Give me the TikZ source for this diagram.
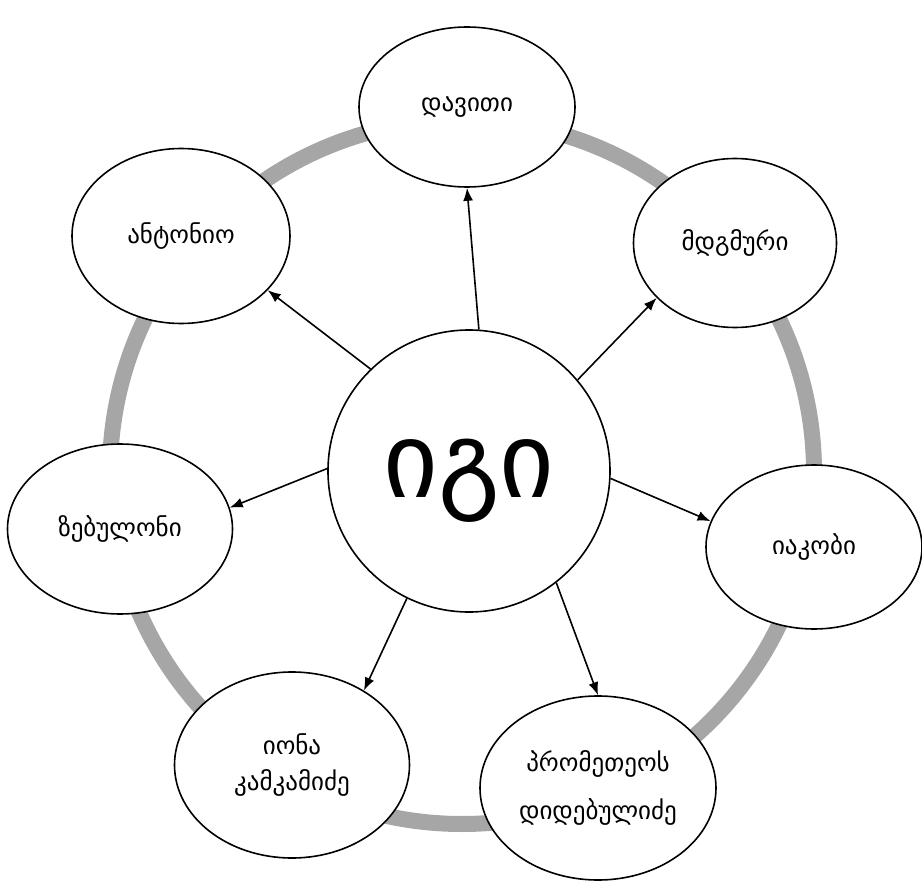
\documentclass[tikz,border=0pt]{standalone}
\usepackage{fontspec}
\usepackage{tikz}
\usetikzlibrary{shapes.geometric}
\usetikzlibrary{arrows.meta}
\newfontfamily\geofont{DejaVu Sans}

\begin{document}
\begin{tikzpicture}[
  x=1pt, y=-1pt,
  every node/.style={ellipse, draw, fill=white, line width=1.6pt, font=\geofont\fontsize{25}{36}\selectfont, align=center, inner sep=0pt},
  every path/.style={line width=1.6pt},
]
\tikzset{>={Latex[length=13pt, width=10pt]}}
\useasboundingbox (0,0) rectangle (922,888);
\draw[line width=16pt, black!35] (462,472) circle[radius=352];

\node (G) [circle, minimum size=282pt, font=\geofont\fontsize{106}{110}\selectfont] at (469,471) {\raisebox{-10pt}[\height][\depth]{იგი}};
\node (D) [minimum width=216pt, minimum height=160pt] at (467,107) {დავითი};
\node (M) [minimum width=203pt, minimum height=169pt] at (735,243) {მდგმური};
\node (I) [minimum width=216pt, minimum height=164pt] at (814,547) {იაკობი};
\node (P) [minimum width=236pt, minimum height=184pt] at (598,788) {პრომეთეოს\\[12pt]დიდებულიძე};
\node (K) [minimum width=235pt, minimum height=186pt] at (292,765) {იონა\\კამკამიძე};
\node (Z) [minimum width=225pt, minimum height=170pt] at (120,529) {ზებულონი};
\node (A) [minimum width=218pt, minimum height=175pt] at (181,236) {ანტონიო};

\draw[->] (G.86) to (D.south);
\draw[->] (G.40) to (M.215);
\draw[->] (G.357) to (I.166);
\draw[->] (G.308) to (P.north);
\draw[->] (G.244) to (K.46);
\draw[->] (G.179) to (Z.11);
\draw[->] (G.134) to (A.328);
\end{tikzpicture}
\end{document}
